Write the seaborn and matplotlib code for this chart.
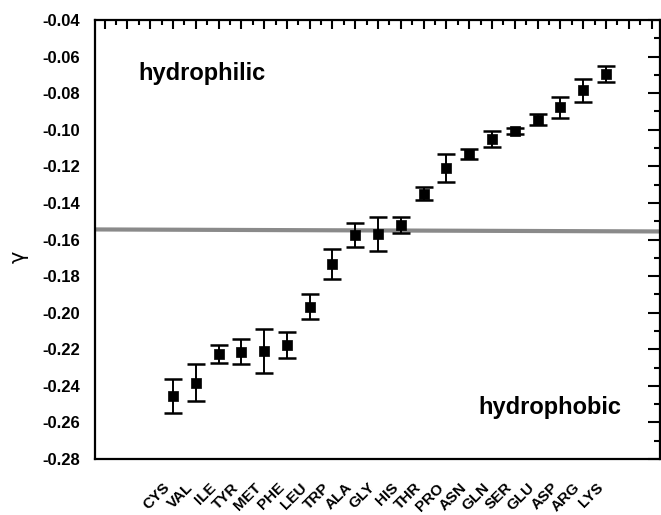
import numpy as np
import pandas as pd
import matplotlib
matplotlib.use("Agg")
import matplotlib.pyplot as plt
import seaborn as sns
from matplotlib.ticker import MultipleLocator

residues = ["CYS", "VAL", "ILE", "TYR", "MET", "PHE", "LEU", "TRP", "ALA", "GLY",
            "HIS", "THR", "PRO", "ASN", "GLN", "SER", "GLU", "ASP", "ARG", "LYS"]
gamma = [-0.2456, -0.2383, -0.2226, -0.2213, -0.2210, -0.2177, -0.1967, -0.1734,
         -0.1574, -0.1570, -0.1521, -0.1350, -0.1210, -0.1133, -0.1050, -0.1005,
         -0.0945, -0.0878, -0.0784, -0.0694]
gamma_err = [0.0095, 0.0100, 0.0051, 0.0070, 0.0120, 0.0070, 0.0070, 0.0083,
             0.0065, 0.0094, 0.0046, 0.0036, 0.0075, 0.0025, 0.0044, 0.0016,
             0.0030, 0.0058, 0.0064, 0.0044]
threshold = [-0.1545, -0.1556]  # gray separation line (left end, right end)

ytick_vals = [-0.28, -0.26, -0.24, -0.22, -0.20, -0.18, -0.16, -0.14, -0.12,
              -0.10, -0.08, -0.06, -0.04]

df = pd.DataFrame({"pos": np.arange(len(residues)), "residue": residues,
                   "gamma": gamma, "err": gamma_err})

sns.set_theme(style="white")
plt.rcParams["font.family"] = ["Liberation Sans", "DejaVu Sans"]
plt.rcParams["font.weight"] = "bold"
for k in ["text.color", "axes.labelcolor", "xtick.color", "ytick.color", "axes.edgecolor"]:
    plt.rcParams[k] = "black"

fig = plt.figure(figsize=(6.61, 5.15), dpi=100)
ax = fig.add_axes([0.1437, 0.1087, 0.8548, 0.8525])

xlim = (-3.42, 21.37)
ax.plot(list(xlim), threshold, color="#8a8a8a", lw=3.0, zorder=1, solid_capstyle="butt")

ax.errorbar(df["pos"], df["gamma"], yerr=df["err"], fmt="none", ecolor="black",
            elinewidth=1.4, capsize=6.8, capthick=1.8, zorder=2)
sns.scatterplot(data=df, x="pos", y="gamma", marker="s", s=45, color="black",
                edgecolor="black", linewidth=0.5, ax=ax, zorder=3, legend=False)

ax.set_xlim(*xlim)
ax.set_ylim(-0.28, -0.04)
ax.set_yticks(ytick_vals)
ax.set_yticklabels([f"{v:.2f}" for v in ytick_vals], fontsize=12, fontweight="bold")
ax.yaxis.set_minor_locator(MultipleLocator(0.01))

ax.set_xticks(np.arange(-3, 22))
labels = ["" if (i < 0 or i >= len(residues)) else residues[i] for i in range(-3, 22)]
ax.set_xticklabels(labels, rotation=45, ha="right", va="top", fontsize=11,
                   fontweight="bold")
ax.xaxis.set_minor_locator(MultipleLocator(0.5))

ax.set_xlabel("")
ax.set_ylabel("γ", fontsize=15, fontweight="normal", family=["DejaVu Sans"])
ax.yaxis.set_label_coords(-0.118, 0.46)

for s in ax.spines.values():
    s.set_linewidth(1.6)
    s.set_color("black")

ax.tick_params(axis="both", which="both", top=True, right=True, color="black")
ax.tick_params(axis="y", which="major", direction="out", length=8.5, width=1.5, pad=2)
ax.tick_params(axis="y", which="minor", direction="out", length=4.5, width=1.5)
ax.tick_params(axis="x", which="major", direction="out", length=6.5, width=1.5, pad=9)
ax.tick_params(axis="x", which="minor", direction="out", length=3.5, width=1.5)
ax.tick_params(axis="both", which="major", labelright=False, labeltop=False)
# top/right ticks inward
for t in ax.xaxis.get_major_ticks() + ax.xaxis.get_minor_ticks():
    t.tick2line.set_marker(matplotlib.lines.TICKDOWN)
for t in ax.yaxis.get_major_ticks() + ax.yaxis.get_minor_ticks():
    t.tick2line.set_marker(matplotlib.lines.TICKLEFT)

ax.text(0.076, 0.879, "hydrophilic", transform=ax.transAxes, fontsize=17,
        fontweight="bold", va="center", ha="left")
ax.text(0.678, 0.118, "hydrophobic", transform=ax.transAxes, fontsize=17,
        fontweight="bold", va="center", ha="left")

fig.savefig("out.png", dpi=100)
